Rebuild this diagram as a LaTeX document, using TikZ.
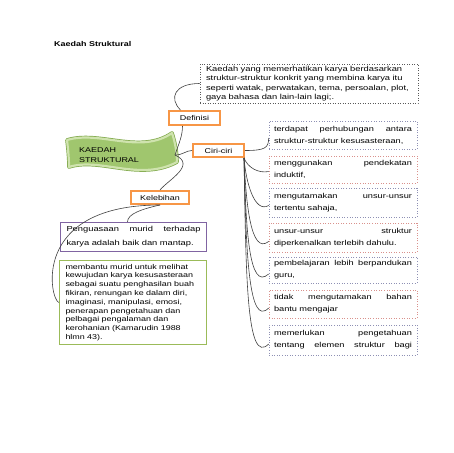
\documentclass[tikz,border=0pt]{standalone}
\usepackage{fontspec}
\setmainfont{Liberation Sans}
\newfontfamily\wfont{Liberation Sans}[FakeStretch=1.28]
\definecolor{orng}{HTML}{F79646}
\definecolor{prpl}{HTML}{8064A2}
\definecolor{grnb}{HTML}{9BBB59}
\definecolor{rgray}{HTML}{8E90B4}
\definecolor{rred}{HTML}{D9918C}
\definecolor{dgray}{HTML}{595959}
\definecolor{gdark}{HTML}{7FA84A}
\definecolor{glight}{HTML}{CFE3AE}
\definecolor{gfill}{HTML}{A0C66E}
\begin{document}
\begin{tikzpicture}[x=1pt,y=-1pt,
  conn/.style={draw=black!75, line width=0.6pt},
  obox/.style={draw=orng, line width=2pt, fill=white, inner sep=0pt,
    font=\wfont\fontsize{7}{8}\selectfont},
  rbox/.style={draw=#1, line width=0.7pt, dash pattern=on 1pt off 1.6pt,
    fill=white, minimum width=148pt, text width=138pt, inner xsep=5pt,
    inner ysep=0pt, align=left, font=\wfont\fontsize{7.2}{12}\selectfont},
  dbox/.style={draw=dgray, line width=0.8pt, dash pattern=on 1pt off 1.5pt,
    fill=white, inner xsep=6pt, inner ysep=0pt, align=left,
    font=\wfont\fontsize{7.3}{9.5}\selectfont},
  sbox/.style={draw=#1, line width=1.3pt, fill=white, inner xsep=6pt,
    inner ysep=0pt, align=left},
]
\fill[white] (0,0) rectangle (453,453);
\useasboundingbox (0,0) rectangle (453,453);

% title
\node[anchor=west, inner sep=0pt, font=\wfont\fontsize{7}{8}\selectfont\bfseries] (title) at (54,44) {Kaedah Struktural};

% banner
\def\bannerpath{(67,140) .. controls (100,130) and (140,155) .. (172,133) .. controls (175,142) and (177,152) .. (177,162) .. controls (140,182) and (100,157) .. (69,167) .. controls (69,158) and (68,149) .. cycle}
\draw[line width=3.6pt, draw=gdark, line join=round] \bannerpath;
\draw[line width=2.2pt, draw=glight, fill=gfill, line join=round] \bannerpath;
\node[anchor=west, align=left, inner sep=0pt, font=\wfont\fontsize{7}{9.3}\selectfont] (ks) at (79,155) {KAEDAH\\STRUKTURAL};
\coordinate (jn) at (175,155);

% orange labels
\node[obox, minimum width=51pt, minimum height=14pt] (def) at (194.5,118) {Definisi};
\node[obox, minimum width=51pt, minimum height=13pt] (ciri) at (218.5,150.5) {Ciri-ciri};
\node[obox, minimum width=58pt, minimum height=13pt] (keb) at (160,197.5) {Kelebihan};

% definition box
\node[dbox, minimum width=218pt, minimum height=39pt, text width=206pt] (dbox) at (309,83.5)
 {Kaedah yang memerhatikan karya berdasarkan\\
  struktur-struktur konkrit yang membina karya itu\\
  seperti watak, perwatakan, tema, persoalan, plot,\\
  gaya bahasa dan lain-lain lagi;.};

% left boxes
\node[sbox=prpl, minimum width=146pt, minimum height=29pt, text width=134pt,
  font=\wfont\fontsize{7.3}{14}\selectfont] (pen) at (133.5,237)
 {Penguasaan\hfill murid\hfill terhadap\\ karya adalah baik dan mantap.};
\node[sbox=grnb, minimum width=147pt, minimum height=84pt, text width=135pt,
  font=\wfont\fontsize{7}{8.8}\selectfont] (grn) at (133,302.5)
 {membantu murid untuk melihat\\
  kewujudan karya kesusasteraan\\
  sebagai suatu penghasilan buah\\
  fikiran, renungan ke dalam diri,\\
  imaginasi, manipulasi, emosi,\\
  penerapan pengetahuan dan\\
  pelbagai pengalaman dan\\
  kerohanian (Kamarudin 1988\\
  hlmn 43).};

% right boxes
\node[rbox=rgray, minimum height=28pt] (r1) at (343,135)
 {terdapat\hfill perhubungan\hfill antara\\ struktur-struktur kesusasteraan,};
\node[rbox=rred, minimum height=27pt] (r2) at (343,169.5)
 {menggunakan\hfill pendekatan\\ induktif,};
\node[rbox=rgray, minimum height=29pt] (r3) at (343,202.5)
 {mengutamakan\hfill unsur-unsur\\ tertentu sahaja,};
\node[rbox=rred, minimum height=29pt] (r4) at (343,237.5)
 {unsur-unsur\hfill struktur\\ diperkenalkan terlebih dahulu.};
\node[rbox=rgray, minimum height=26pt] (r5) at (343,270)
 {pembelajaran\hfill lebih\hfill berpandukan\\ guru,};
\node[rbox=rred, minimum height=28pt] (r6) at (343,304)
 {tidak\hfill mengutamakan\hfill bahan\\ bantu mengajar};
\node[rbox=rgray, minimum height=30pt] (r7) at (343,340)
 {memerlukan\hfill pengetahuan\\ tentang\hfill elemen\hfill struktur\hfill bagi};

% connectors
\draw[conn] (jn) .. controls +(4,-12) and +(0,10) .. ([xshift=-12pt]def.south);
\draw[conn] (jn) .. controls +(8,0) and +(-6,0) .. (ciri.west);
\draw[conn] (jn) .. controls +(22,10) and +(8,-10) .. (keb.north);
\draw[conn] ([xshift=-14pt]def.north) .. controls +(-12,-12) and +(-25,0) .. (dbox.west);
\draw[conn] (keb.south) .. controls +(-18,4) and +(0,-8) .. ([xshift=-6pt]pen.north);
\draw[conn] (keb.south) .. controls (30,205) and (50,300) .. (grn.west);

\draw[conn] (ciri.east) .. controls +(20,0) and +(0,10) .. ([yshift=-3pt]r1.west);
\draw[conn] ([xshift=-1pt]ciri.south east) .. controls +(4,10) and +(-10,2) .. ([yshift=-2pt]r2.west);
\draw[conn] ([xshift=-1pt]ciri.south east) .. controls +(2,25) and +(-14,8) .. ([yshift=-3pt]r3.west);
\draw[conn] ([xshift=-1pt]ciri.south east) .. controls +(2,45) and +(-18,14) .. ([yshift=-4pt]r4.west);
\draw[conn] ([xshift=-1pt]ciri.south east) .. controls +(2,70) and +(-20,18) .. ([yshift=-4pt]r5.west);
\draw[conn] ([xshift=-1pt]ciri.south east) .. controls +(2,95) and +(-20,20) .. ([yshift=-4pt]r6.west);
\draw[conn] ([xshift=-1pt]ciri.south east) .. controls +(2,120) and +(-22,22) .. ([yshift=-4pt]r7.west);
\end{tikzpicture}
\end{document}
